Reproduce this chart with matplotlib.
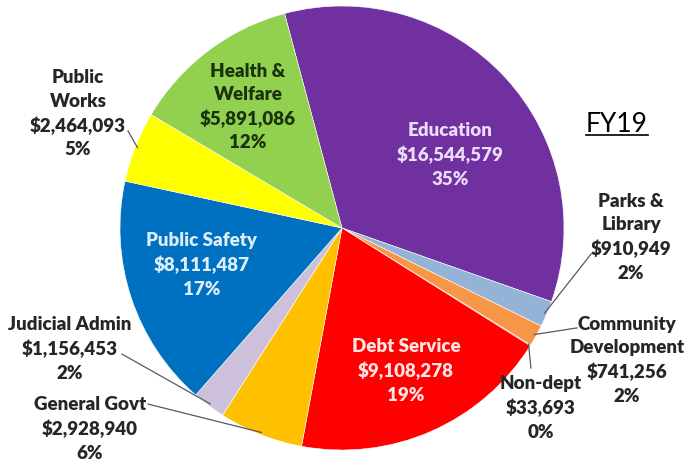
import numpy as np
import matplotlib
matplotlib.use("Agg")
import matplotlib.pyplot as plt
from matplotlib.lines import Line2D

# data (clockwise from top)
depts = ["Education", "Parks &\nLibrary", "Community\nDevelopment", "Non-dept",
         "Debt Service", "General Govt", "Judicial Admin", "Public Safety",
         "Public\nWorks", "Health &\nWelfare"]
amounts = [16544579, 910949, 741256, 33693, 9108278, 2928940, 1156453,
           8111487, 2464093, 5891086]
pcts = ["35%", "2%", "2%", "0%", "19%", "6%", "2%", "17%", "5%", "12%"]
colors = ["#7030A0", "#95B3D7", "#F79646", "#E46C0A", "#FF0000", "#FFC000",
          "#CCC0DA", "#0070C0", "#FFFF00", "#92D050"]

# label layout: (x, y) in pie units, text colour, leader start or None
layout = {
    "Education":      ((0.486, 0.329), "#EBDDF7", None),
    "Parks &\nLibrary": ((1.302, -0.041), "#262626", (1.122, -0.117)),
    "Community\nDevelopment": ((1.284, -0.595), "#262626", (1.059, -0.450)),
    "Non-dept":       ((0.896, -0.811), "#262626", (0.851, -0.631)),
    "Debt Service":   ((0.288, -0.644), "#FFE5E5", None),
    "General Govt":   ((-1.135, -0.905), "#262626", (-0.874, -0.793)),
    "Judicial Admin": ((-1.225, -0.545), "#262626", (-0.991, -0.568)),
    "Public Safety":  ((-0.631, -0.167), "#DDEEFB", None),
    "Public\nWorks":  ((-1.189, 0.514), "#262626", (-0.964, 0.437)),
    "Health &\nWelfare": ((-0.423, 0.545), "#1A330C", None),
}

plt.rcParams['font.family'] = ['Lato', 'DejaVu Sans']

W, H = 688, 462
cx, cy, R = 342, 228, 222
fig = plt.figure(figsize=(W / 100, H / 100), dpi=100)
ax = fig.add_axes([(cx - R) / W, (H - cy - R) / H, 2 * R / W, 2 * R / H])

wedges, _ = ax.pie(amounts, colors=colors, startangle=105, counterclock=False,
                   radius=1, wedgeprops=dict(edgecolor="white", linewidth=0.4))
ax.set_xlim(-1, 1)
ax.set_ylim(-1, 1)
ax.set_aspect("equal")
ax.axis("off")

for w, name, amt, pc in zip(wedges, depts, amounts, pcts):
    (tx, ty), tc, lead = layout[name]
    txt = f"{name}\n${amt:,}\n{pc}"
    ax.text(tx, ty, txt, ha="center", va="center", fontsize=13.5,
            fontweight="heavy", color=tc, linespacing=1.45, clip_on=False)
    if lead is not None:
        mid = np.deg2rad((w.theta1 + w.theta2) / 2)
        ex, ey = np.cos(mid) * 0.99, np.sin(mid) * 0.99
        ax.plot([lead[0], ex], [lead[1], ey], color="#595959", lw=0.9,
                clip_on=False)

# title with underline
t = ax.text(1.239, 0.468, "FY19", ha="center", va="center", fontsize=19,
            color="black", clip_on=False)
fig.canvas.draw()
bb = t.get_window_extent().transformed(fig.transFigure.inverted())
fig.add_artist(Line2D([bb.x0, bb.x1], [bb.y0 + 0.004, bb.y0 + 0.004],
                      color="black", lw=1.2, transform=fig.transFigure))

fig.savefig("out.png", dpi=100)
